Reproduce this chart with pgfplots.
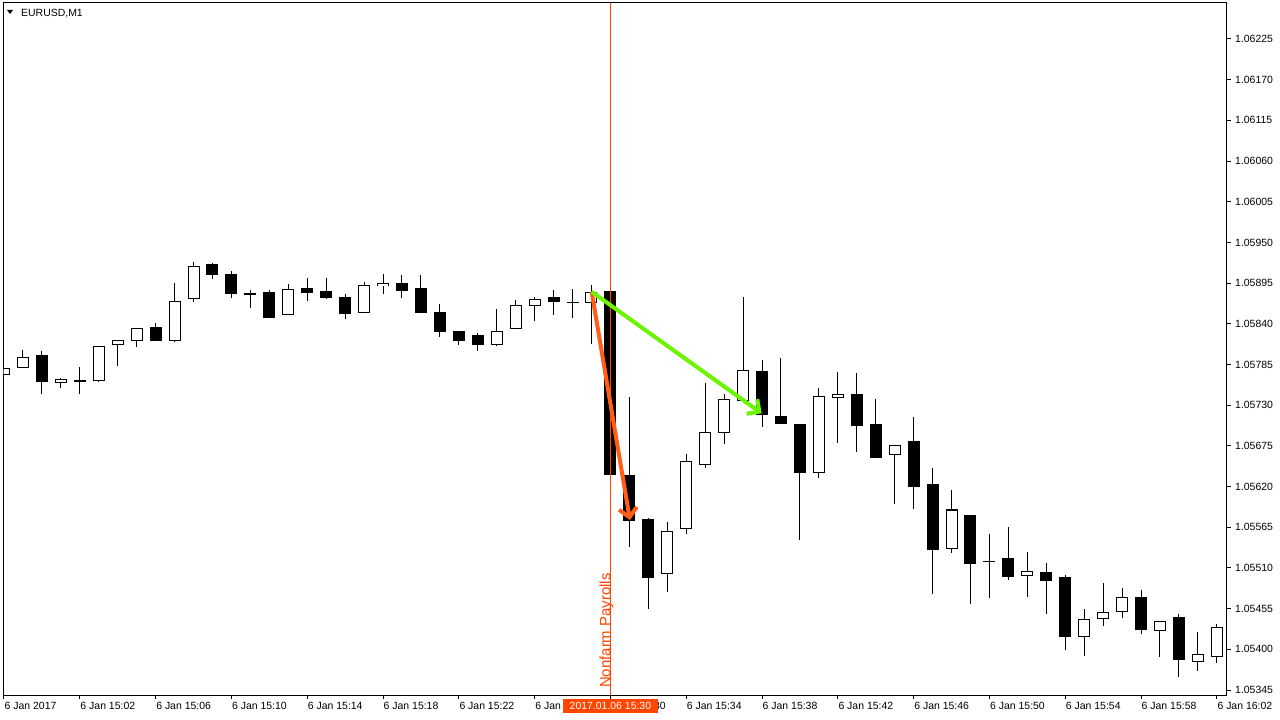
\documentclass[border=0pt]{standalone}
\usepackage{fontspec}
\setmainfont{Liberation Sans}
\usepackage{pgfplots}
\usepackage{pgfplotstable}
\pgfplotsset{compat=1.18}
\usetikzlibrary{arrows.meta}
\definecolor{nfp}{HTML}{FF4500}
\definecolor{arrowor}{HTML}{FF5E14}
\definecolor{arrowgr}{HTML}{6BF500}

% EURUSD M1 candles, x = minutes after 14:58
\pgfplotstableread{
x  o        h        l        c
0  1.057722 1.057911 1.057681 1.057803
1  1.057816 1.058046 1.057803 1.057951
3  1.057613 1.057681 1.057546 1.057654
5  1.057641 1.058100 1.057613 1.058100
6  1.058127 1.058181 1.057843 1.058181
7  1.058181 1.058343 1.058100 1.058343
9  1.058181 1.058952 1.058154 1.058708
10 1.058749 1.059236 1.058695 1.059182
15 1.058533 1.058952 1.058533 1.058871
19 1.058560 1.058965 1.058560 1.058925
20 1.058925 1.059087 1.058817 1.058952
26 1.058127 1.058600 1.058100 1.058303
27 1.058343 1.058735 1.058343 1.058654
28 1.058654 1.058763 1.058452 1.058735
31 1.058708 1.058938 1.058141 1.058844
35 1.055032 1.055735 1.054788 1.055599
36 1.055626 1.056654 1.055572 1.056532
37 1.056505 1.057600 1.056451 1.056938
38 1.056951 1.057465 1.056789 1.057397
39 1.057370 1.058763 1.057360 1.057776
43 1.056397 1.057532 1.056316 1.057424
44 1.057411 1.057749 1.056789 1.057451
47 1.056626 1.056748 1.055978 1.056748
50 1.055356 1.056154 1.055302 1.055883
54 1.055005 1.055316 1.054707 1.055059
57 1.054180 1.054559 1.053923 1.054410
58 1.054424 1.054910 1.054329 1.054505
59 1.054518 1.054843 1.054437 1.054707
61 1.054275 1.054396 1.053910 1.054396
63 1.053842 1.054248 1.053721 1.053937
64 1.053910 1.054342 1.053815 1.054302
}\bull

\pgfplotstableread{
x  o        h        l        c
2  1.057965 1.058033 1.057451 1.057613
4  1.057641 1.057816 1.057451 1.057641
8  1.058357 1.058425 1.058181 1.058181
11 1.059195 1.059222 1.059006 1.059060
12 1.059073 1.059114 1.058749 1.058817
13 1.058817 1.058857 1.058614 1.058810
14 1.058830 1.058871 1.058492 1.058492
16 1.058884 1.059033 1.058722 1.058830
17 1.058844 1.059033 1.058749 1.058763
18 1.058776 1.058817 1.058479 1.058560
21 1.058952 1.059073 1.058763 1.058857
22 1.058884 1.059073 1.058560 1.058560
23 1.058560 1.058668 1.058222 1.058303
24 1.058316 1.058316 1.058127 1.058195
25 1.058249 1.058276 1.058033 1.058127
29 1.058763 1.058857 1.058519 1.058708
30 1.058700 1.058871 1.058479 1.058695
32 1.058844 1.058844 1.056370 1.056370
33 1.056356 1.057411 1.055383 1.055748
34 1.055762 1.055789 1.054559 1.054978
40 1.057762 1.057924 1.057019 1.057181
41 1.057154 1.057938 1.057059 1.057059
42 1.057046 1.057046 1.055491 1.056397
45 1.057451 1.057749 1.056681 1.057032
46 1.057046 1.057384 1.056600 1.056600
48 1.056816 1.057140 1.055897 1.056208
49 1.056235 1.056465 1.054761 1.055356
51 1.055816 1.055830 1.054626 1.055167
52 1.055194 1.055572 1.054707 1.055194
53 1.055221 1.055667 1.054951 1.054978
55 1.055046 1.055181 1.054491 1.054938
56 1.054978 1.055018 1.054004 1.054180
60 1.054707 1.054816 1.054221 1.054275
62 1.054424 1.054478 1.053626 1.053856
}\bear

\pgfplotsset{
  candle/.style 2 args={draw=none, mark=none, forget plot,
    error bars/.cd, y dir=both, y explicit, error mark=none,
    error bar style={draw=#2, line width=#1}},
}

\begin{document}
\begin{tikzpicture}
\path[use as bounding box, fill=white] (0,0) rectangle (1280bp,720bp);
\begin{axis}[
  at={(3.5bp,25bp)}, anchor=south west,
  scale only axis, width=1223bp, height=692bp,
  xmin=-0.026, xmax=64.51, ymin=1.053383, ymax=1.062736,
  clip mode=individual,
  axis line style={line width=1bp, black},
  tick style={black, line width=1bp},
  major tick length=4bp, tick align=outside,
  xtick pos=left, ytick pos=right, yticklabel pos=right,
  xtick={0,4,...,64},
  xticklabels={6 Jan 2017, 6 Jan 15:02, 6 Jan 15:06, 6 Jan 15:10, 6 Jan 15:14,
    6 Jan 15:18, 6 Jan 15:22, 6 Jan 15:26, 6 Jan 15:30, 6 Jan 15:34, 6 Jan 15:38,
    6 Jan 15:42, 6 Jan 15:46, 6 Jan 15:50, 6 Jan 15:54, 6 Jan 15:58, 6 Jan 16:02},
  ytick={1.05345,1.05400,1.05455,1.05510,1.05565,1.05620,1.05675,1.05730,1.05785,
    1.05840,1.05895,1.05950,1.06005,1.06060,1.06115,1.06170,1.06225},
  yticklabels={1.05345,1.05400,1.05455,1.05510,1.05565,1.05620,1.05675,1.05730,1.05785,
    1.05840,1.05895,1.05950,1.06005,1.06060,1.06115,1.06170,1.06225},
  tick label style={font=\fontsize{10.5}{12}\selectfont},
  xticklabel style={anchor=north west, inner sep=0pt, xshift=0.5bp, yshift=-3bp},
  yticklabel style={anchor=west, inner sep=0pt, xshift=4.5bp},
  scaled y ticks=false,
]
% wicks
\addplot[candle={1bp}{black}] table[x=x, y expr={(\thisrow{h}+\thisrow{l})/2},
  y error expr={(\thisrow{h}-\thisrow{l})/2}] {\bull};
\addplot[candle={1bp}{black}] table[x=x, y expr={(\thisrow{h}+\thisrow{l})/2},
  y error expr={(\thisrow{h}-\thisrow{l})/2}] {\bear};
% bodies
\addplot[candle={12bp}{black}] table[x=x, y expr={(\thisrow{o}+\thisrow{c})/2},
  y error expr={abs(\thisrow{c}-\thisrow{o})/2+0.0000068}] {\bear};
\addplot[candle={12bp}{black}] table[x=x, y expr={(\thisrow{o}+\thisrow{c})/2},
  y error expr={abs(\thisrow{c}-\thisrow{o})/2+0.0000068}] {\bull};
\addplot[candle={10bp}{white}] table[x=x, y expr={(\thisrow{o}+\thisrow{c})/2},
  y error expr={max(abs(\thisrow{c}-\thisrow{o})/2-0.0000068,0)}] {\bull};

% news line
\addplot[nfp, line width=1bp] coordinates {(32,1.053383) (32,1.062736)};
\addplot[arrowor, line width=4bp, -{Straight Barb[length=9bp, width=18bp]}]
  coordinates {(31.01,1.058834) (33.03,1.055748)};
\addplot[arrowgr, line width=4bp, -{Straight Barb[length=9bp, width=18bp]}]
  coordinates {(31.01,1.058834) (39.98,1.057190)};
\node[rotate=90, anchor=base west, inner sep=0pt, text=nfp,
  font=\fontsize{15}{17}\selectfont] at (axis cs:32,1.053504) [xshift=-2bp] {Nonfarm Payrolls};
\coordinate (nfpbot) at (axis cs:32,1.053383);
\end{axis}
\node[fill=nfp, text=white, anchor=north, inner xsep=6.5bp, inner ysep=0pt,
  minimum height=14bp, font=\fontsize{10.5}{12}\selectfont]
  at ([yshift=-4bp]nfpbot) {2017.01.06 15:30};
\fill[black] (7bp,710bp) -- (13bp,710bp) -- (10bp,706bp) -- cycle;
\node[anchor=base west, inner sep=0pt, font=\fontsize{10.5}{12}\selectfont]
  at (21bp,703bp) {EURUSD,M1};
\end{tikzpicture}
\end{document}
